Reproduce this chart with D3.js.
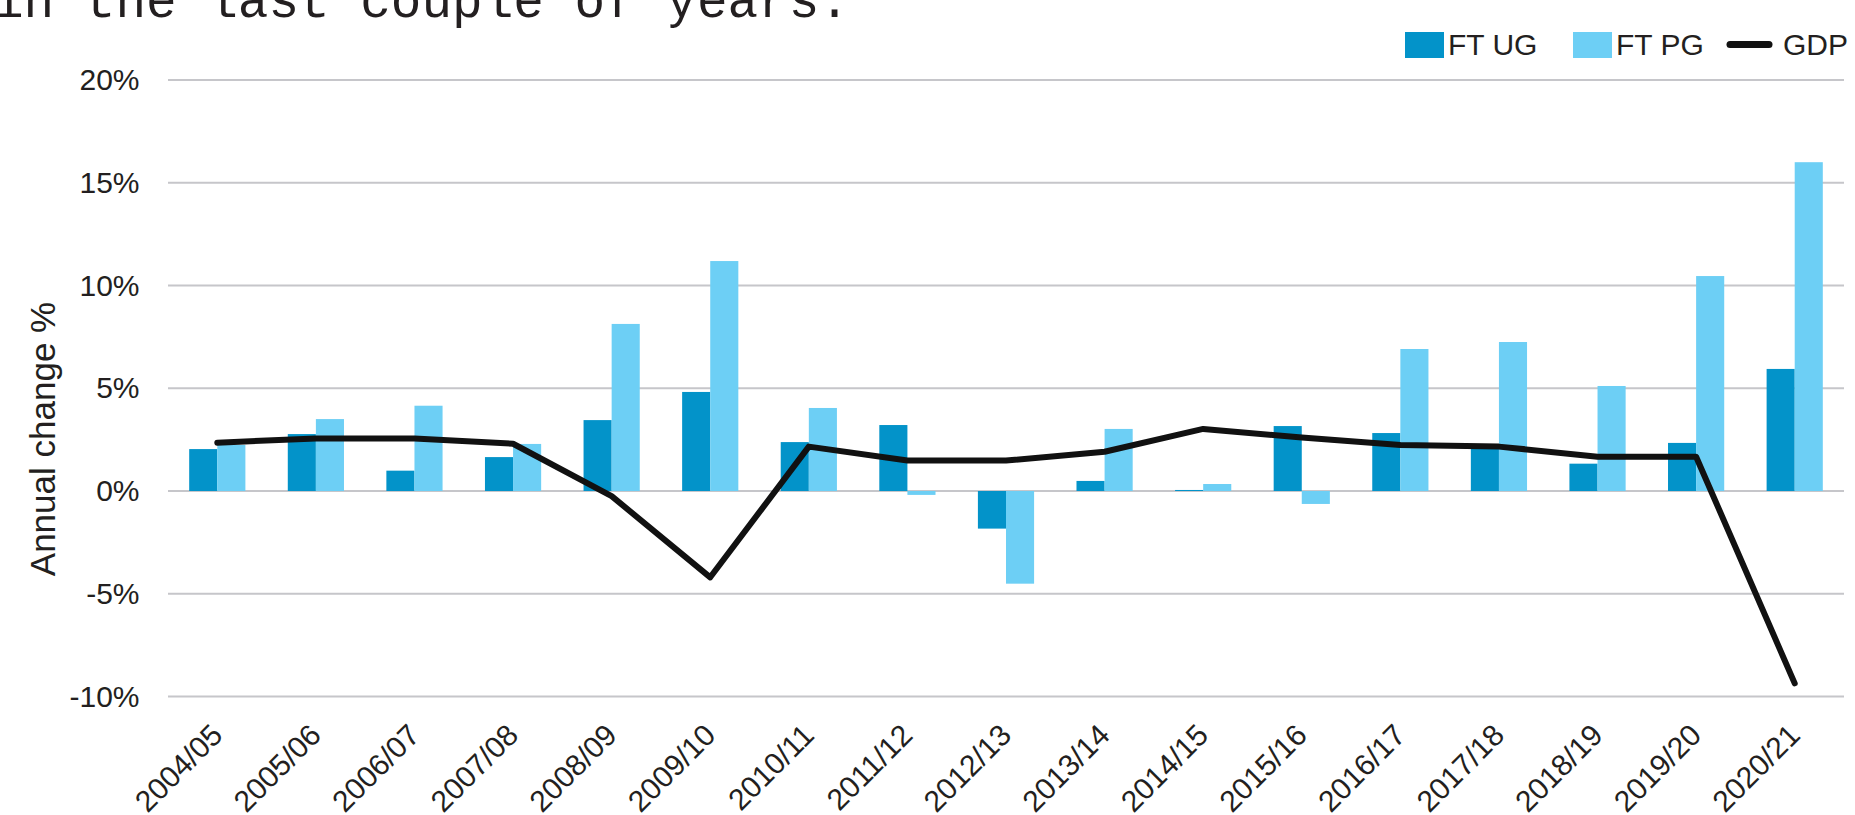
<!DOCTYPE html>
<html>
<head>
<meta charset="utf-8">
<script src="https://cdn.jsdelivr.net/npm/d3@7"></script>
<style>
    body { margin: 0; background: #fff; }
    svg { display: block; }
    text { fill: #231f20; font-family: "Liberation Sans", Arial, sans-serif; }
</style>
</head>
<body>
<div id="vis"></div>
<script>
//chart data
var years = ["2004/05", "2005/06", "2006/07", "2007/08", "2008/09", "2009/10", "2010/11", "2011/12", "2012/13",
    "2013/14", "2014/15", "2015/16", "2016/17", "2017/18", "2018/19", "2019/20", "2020/21"];
var ftUG = [2.04, 2.77, 0.99, 1.65, 3.45, 4.82, 2.38, 3.21, -1.83, 0.49, 0.05, 3.16, 2.82, 2.05, 1.33, 2.34, 5.94];
var ftPG = [2.24, 3.5, 4.15, 2.29, 8.13, 11.19, 4.04, -0.19, -4.51, 3.02, 0.34, -0.63, 6.91, 7.25, 5.11, 10.46, 16.0];
var gdp = [2.35, 2.56, 2.56, 2.3, -0.25, -4.2, 2.16, 1.48, 1.48, 1.91, 3.02, 2.6, 2.24, 2.16, 1.67, 1.67, -9.36];
var yTicks = [-10, -5, 0, 5, 10, 15, 20];
var seriesNames = ["FT UG", "FT PG"];
var colors = ["#0393c9", "#6dcff5"];

var width = 1855, height = 815;

var svg = d3.select("#vis").append("svg").attr("width", width).attr("height", height);

//cut-off heading text above the chart
svg.append("text")
    .attr("x", -7)
    .attr("y", 17)
    .style("font-family", "'Liberation Mono', monospace")
    .style("font-size", "51px")
    .text("in the last couple of years.");

//scales
var x = d3.scaleBand().domain(years).range([168, 1844]).paddingInner(0.43).paddingOuter(0.215);
var xs = d3.scaleBand().domain(seriesNames).range([0, x.bandwidth()]);
var y = d3.scaleLinear().domain([-10, 20]).range([696.5, 80]);

//gridlines
svg.append("g").selectAll("line")
    .data(yTicks)
    .enter().append("line")
    .attr("x1", 168).attr("x2", 1844)
    .attr("y1", d => y(d)).attr("y2", d => y(d))
    .attr("stroke", "#c6c6ca")
    .attr("stroke-width", 2);

//y axis labels
var yAxis = d3.axisLeft(y).tickValues(yTicks).tickSize(0).tickPadding(0).tickFormat(d => d + "%");
var yg = svg.append("g").attr("transform", "translate(139.5,0)").call(yAxis);
yg.select(".domain").remove();
yg.selectAll("text").style("font-size", "30px").attr("fill", "#231f20").attr("font-family", null);

//y axis title
svg.append("text")
    .attr("transform", "translate(55,439) rotate(-90)")
    .attr("text-anchor", "middle")
    .style("font-size", "35px")
    .text("Annual change %");

//bars
var series = [ftUG, ftPG];
series.forEach(function (vals, s) {
    svg.append("g").selectAll("rect")
        .data(vals)
        .enter().append("rect")
        .attr("x", (d, i) => x(years[i]) + xs(seriesNames[s]))
        .attr("width", xs.bandwidth())
        .attr("y", d => y(Math.max(0, d)))
        .attr("height", d => Math.abs(y(d) - y(0)))
        .attr("fill", colors[s]);
});

//gdp line
var line = d3.line()
    .x((d, i) => x(years[i]) + x.bandwidth() / 2)
    .y(d => y(d));

svg.append("path")
    .datum(gdp)
    .attr("d", line)
    .attr("fill", "none")
    .attr("stroke", "#111")
    .attr("stroke-width", 6)
    .attr("stroke-linejoin", "round")
    .attr("stroke-linecap", "round");

//x labels
svg.append("g").selectAll("text")
    .data(years)
    .enter().append("text")
    .attr("transform", d => "translate(" + (x(d) + x.bandwidth() / 2 + 7) + ",737) rotate(-45)")
    .attr("text-anchor", "end")
    .style("font-size", "30px")
    .text(d => d);

//legend
var legend = svg.append("g");
var legendX = [1405, 1573];
seriesNames.forEach(function (name, i) {
    legend.append("rect").attr("x", legendX[i]).attr("y", 32).attr("width", 39).attr("height", 26).attr("fill", colors[i]);
    legend.append("text").attr("x", legendX[i] + 43).attr("y", 55).style("font-size", "30px").text(name);
});
legend.append("line")
    .attr("x1", 1730).attr("x2", 1769).attr("y1", 44.5).attr("y2", 44.5)
    .attr("stroke", "#111").attr("stroke-width", 7).attr("stroke-linecap", "round");
legend.append("text").attr("x", 1783).attr("y", 55).style("font-size", "30px").text("GDP");
</script>
</body>
</html>
